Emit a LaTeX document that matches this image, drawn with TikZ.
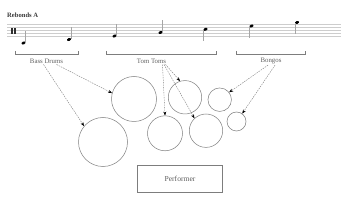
\documentclass[tikz,border=0pt]{standalone}
\usepackage{fontspec}
\setmainfont{Liberation Serif}
\usetikzlibrary{arrows.meta}
\definecolor{staffgray}{RGB}{205,205,205}
\definecolor{drumgray}{RGB}{125,125,125}
\definecolor{labelgray}{RGB}{95,95,95}

\begin{document}
\begin{tikzpicture}[x=1pt, y=-1pt,
  drum/.style={circle, draw=drumgray, line width=0.5pt, inner sep=0pt},
  part/.style={font=\fontsize{6.8}{8}\selectfont, text=labelgray, inner sep=1pt},
  player/.style={rectangle, draw=drumgray, line width=0.6pt, minimum width=85pt, minimum height=27pt, font=\fontsize{7.6}{9}\selectfont, text=labelgray},
  arr/.style={-{Stealth[length=4pt, width=3pt, color=black]}, draw=drumgray, line width=0.4pt, dash pattern=on 1.5pt off 1pt},
  brk/.style={draw=drumgray, line width=0.5pt}
]
\useasboundingbox (0,0) rectangle (350,205);

% title and staff
\node[anchor=west, inner sep=0pt, font=\fontsize{6.6}{8}\selectfont\bfseries, text=labelgray!60!black] (title) at (7,15.5) {Rebonds A};
\foreach \ly in {24,27,30,33,36}
  \draw[staffgray, line width=0.5pt] (7,\ly) -- (341,\ly);
\fill[labelgray!50!black] (11.3,28) rectangle (13.3,34.5);
\fill[labelgray!50!black] (14.3,28) rectangle (15.8,34.5);
\foreach \nx/\ny/\dir in {23.5/43/1, 69/39.5/1, 114.5/36/1, 160.5/32.5/1, 205.5/29.3/-1, 251.5/26/-1, 297/22.5/-1} {
  \fill[black, rotate around={25:(\nx,\ny)}] (\nx,\ny) ellipse (2.1pt and 1.4pt);
  \draw[gray!70, line width=0.4pt] (\nx+1.9*\dir,\ny-0.5*\dir) -- (\nx+1.9*\dir,\ny-12*\dir);
}

% brackets
\draw[brk] (15,51) -- (15,54.5) -- (78,54.5) -- (78,51);
\draw[brk] (106,51) -- (106,54.5) -- (216,54.5) -- (216,51);
\draw[brk] (236.5,51) -- (236.5,54.5) -- (305,54.5) -- (305,51);

\node[part] (bass) at (46.5,61) {Bass Drums};
\node[part] (toms) at (151.5,61) {Tom Toms};
\node[part] (bongos) at (271,61) {Bongos};

% drums
\node[drum, minimum size=45pt] (bdhigh) at (134,99) {};
\node[drum, minimum size=49pt] (bdlow) at (103,142) {};
\node[drum, minimum size=33.4pt] (tomA) at (185,97.3) {};
\node[drum, minimum size=35pt] (tomB) at (165,133.3) {};
\node[drum, minimum size=33.4pt] (tomC) at (206,130.7) {};
\node[drum, minimum size=23.5pt] (bongoA) at (219.7,99.7) {};
\node[drum, minimum size=19pt] (bongoB) at (236.5,121.5) {};

\node[player] (perf) at (180,178.7) {Performer};

\draw[arr] ([xshift=10pt]bass.south) -- (bdhigh.165);
\draw[arr] ([xshift=-3pt]bass.south) -- (bdlow.140);
\draw[arr] ([xshift=11pt]toms.south) -- (tomB.north);
\draw[arr] ([xshift=12.5pt]toms.south) -- (tomC.133);
\draw[arr] ([xshift=14pt]toms.south) -- (tomA.107);
\draw[arr] ([xshift=-3pt]bongos.south) -- (bongoA.38);
\draw[arr] ([xshift=4pt]bongos.south) -- (bongoB.54);
\end{tikzpicture}
\end{document}
